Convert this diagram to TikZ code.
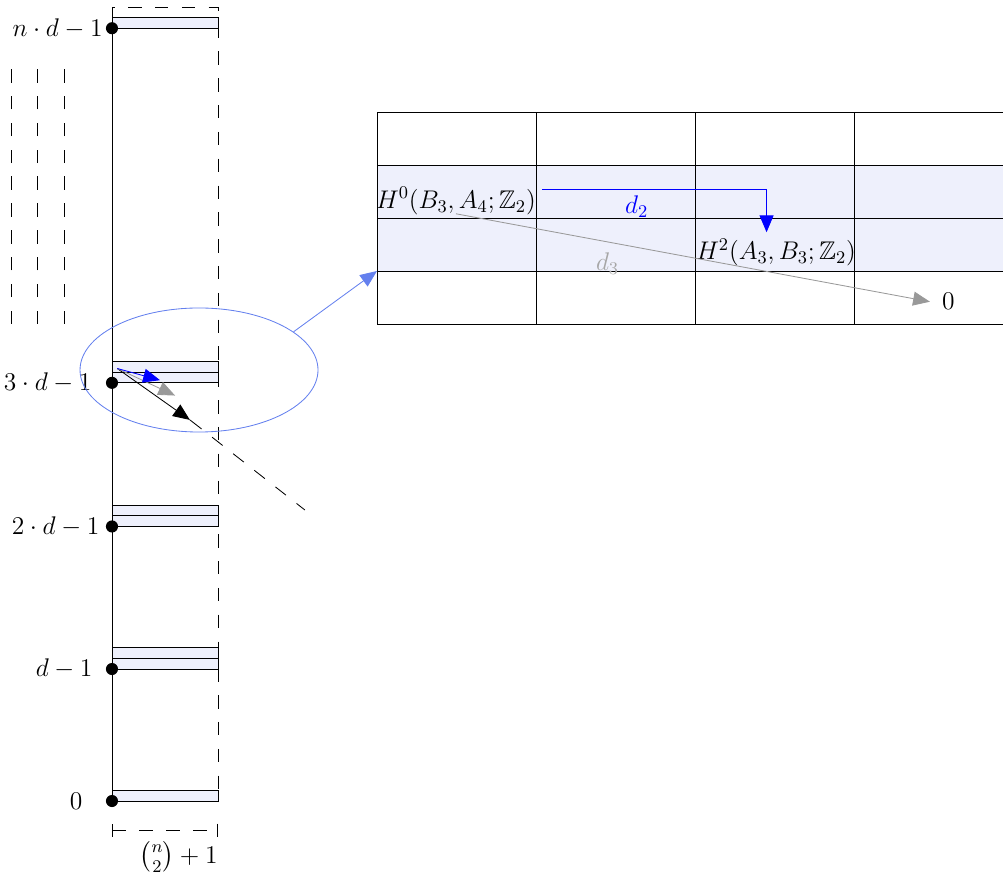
\RequirePackage{fix-cm}
\documentclass[tikz,border=0pt]{standalone}
\usepackage{amsmath,amssymb}
\usepackage{tikz}
\usetikzlibrary{shapes.geometric,arrows.meta}

\definecolor{cellblue}{RGB}{238,240,252}
\definecolor{lensblue}{RGB}{100,128,238}

\begin{document}
\begin{tikzpicture}[
    every node/.style={font=\fontsize{13.7}{16}\selectfont},
    bar/.style={draw, fill=cellblue},
    dot/.style={circle, fill=black, inner sep=0pt, minimum size=6.5pt},
    lvl/.style={anchor=east, inner sep=0pt},
    longdash/.style={dash pattern=on 7.2pt off 7.2pt, line width=0.45pt},
    tip/.style={-{Triangle[length=9pt,width=7.5pt]}},
    line width=0.45pt
]
    \useasboundingbox (-2.113,-1.547) rectangle (16.811,15.113);

    % --- Spectral sequence page (zoomed) ---
    \fill[cellblue] (5,10) rectangle (17,12);
    \foreach \y in {9,...,13} \draw (5,\y) -- (17,\y);
    \foreach \x in {5,8,11,14} \draw (\x,9) -- (\x,13);
    \coordinate (corner) at (5,10);

    \node (h0) at (6.49,11.32) {$H^0(B_3,A_4;\mathbb{Z}_2)$};
    \node (h2) at (12.53,10.35) {$H^2(A_3,B_3;\mathbb{Z}_2)$};
    \node (zero) at (15.78,9.42) {$0$};
    \draw[tip, blue] ([yshift=0.22cm]h0.east) -| ([xshift=-0.18cm]h2.north);
    \node[blue] (d2) at (9.9,11.21) {$d_2$};
    \draw[tip, black!40] ([yshift=4pt]h0.south) -- ([xshift=-3pt]zero.west);
    \node[black!35] (d3) at (9.35,10.14) {$d_3$};

    % --- Filtration column ---
    \draw[longdash] (0,14.78) -- (0,14.98) -- (2,14.98) -- (2,0.2);
    \draw (0,0) -- (0,14.78);
    \foreach \x in {-1.9,-1.41,-0.906} \draw[longdash] (\x,9) -- (\x,14);

    \draw[bar] (0,0) rectangle (2,0.2);
    \draw[bar] (0,2.49) rectangle (2,2.69);
    \draw[bar] (0,2.69) rectangle (2,2.89);
    \draw[bar] (0,5.18) rectangle (2,5.38);
    \draw[bar] (0,5.38) rectangle (2,5.58);
    \draw[bar] (0,7.89) rectangle (2,8.09);
    \draw[bar] (0,8.09) rectangle (2,8.29);
    \draw[bar] (0,14.58) rectangle (2,14.78);

    \node[dot] (p0) at (0,0) {};
    \node[dot] (p1) at (0,2.49) {};
    \node[dot] (p2) at (0,5.18) {};
    \node[dot] (p3) at (0,7.89) {};
    \node[dot] (pn) at (0,14.58) {};
    \node[lvl] (l0) at (-0.55,0) {$0$};
    \node[lvl] (l1) at (-0.36,2.49) {$d-1$};
    \node[lvl] (l2) at (-0.23,5.18) {$2\cdot d-1$};
    \node[lvl] (l3) at (-0.38,7.89) {$3\cdot d-1$};
    \node[lvl] (ln) at (-0.17,14.58) {$n\cdot d-1$};

    % width
    \draw[longdash, {Bar[width=7pt]}-{Bar[width=7pt]}] (0,-0.55) -- (2,-0.55);
    \node[anchor=north east, inner sep=0pt] (width) at (2,-0.76) {$\binom{n}{2}+1$};

    % --- Differentials in the column ---
    \coordinate (s) at (0.1,8.16);
    \coordinate (m4tip) at (1.47,7.19);
    \coordinate (m4end) at (1.69,7.02);
    \coordinate (m4far) at (3.64,5.49);
    \coordinate (m3tip) at (1.19,7.65);
    \coordinate (m2tip) at (0.906,7.94);
    \draw[tip] (s) -- (m4tip);
    \draw (m4tip) -- (m4end);
    \draw[longdash, dash phase=7.2pt] (m4end) -- (m4far);
    \draw[tip, black!40] (s) -- (m3tip);
    \draw[tip, blue] (s) -- (m2tip);

    % --- Lens ---
    \node[draw=lensblue, ellipse, minimum width=4.49cm, minimum height=2.34cm, inner sep=0pt] (lens) at (1.642,8.132) {};
    \draw[tip, lensblue] (lens.22) -- (corner);
\end{tikzpicture}
\end{document}
